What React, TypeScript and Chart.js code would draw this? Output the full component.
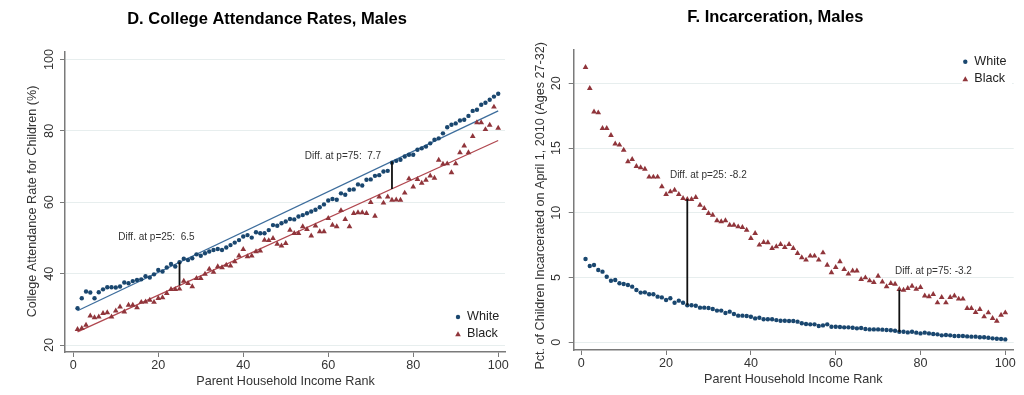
import React, { useEffect, useRef } from "react";
import { Chart, registerables } from "chart.js";
Chart.register(...registerables);

const ranks = [
  1, 2, 3, 4, 5, 6, 7, 8, 9, 10, 11, 12, 13, 14, 15, 16, 17, 18, 19, 20,
  21, 22, 23, 24, 25, 26, 27, 28, 29, 30, 31, 32, 33, 34, 35, 36, 37, 38, 39, 40,
  41, 42, 43, 44, 45, 46, 47, 48, 49, 50, 51, 52, 53, 54, 55, 56, 57, 58, 59, 60,
  61, 62, 63, 64, 65, 66, 67, 68, 69, 70, 71, 72, 73, 74, 75, 76, 77, 78, 79, 80,
  81, 82, 83, 84, 85, 86, 87, 88, 89, 90, 91, 92, 93, 94, 95, 96, 97, 98, 99, 100,
];

const collegeWhite = [
  30.3, 33.1, 35.0, 34.7, 33.1, 34.8, 35.6, 36.2, 36.2, 36.1,
  36.4, 37.5, 37.3, 37.9, 38.2, 38.4, 39.3, 38.9, 39.8, 41.0,
  40.6, 41.7, 42.7, 42.0, 43.2, 44.2, 43.8, 44.3, 45.4, 45.0,
  45.7, 46.2, 46.6, 46.9, 46.6, 47.3, 48.0, 48.7, 49.4, 50.4,
  50.8, 50.1, 51.6, 51.3, 51.3, 52.2, 53.6, 53.4, 54.1, 54.6,
  55.3, 55.2, 56.0, 56.4, 56.9, 57.4, 57.9, 58.6, 59.4, 60.5,
  60.9, 60.7, 62.5, 62.1, 63.5, 63.6, 65.0, 64.7, 66.3, 66.4,
  67.4, 67.6, 68.6, 68.8, 71.1, 71.6, 71.9, 72.8, 73.3, 73.3,
  74.7, 75.1, 75.6, 76.5, 77.5, 77.9, 79.3, 81.0, 81.7, 82.1,
  82.9, 83.1, 84.2, 85.6, 85.9, 87.3, 87.9, 88.7, 89.6, 90.4,
];

const collegeBlack = [
  24.4, 24.7, 25.6, 28.2, 27.7, 27.9, 28.9, 29.1, 27.9, 29.6,
  30.7, 29.3, 31.2, 31.2, 30.5, 32.0, 32.1, 32.6, 32.0, 33.1,
  33.3, 34.5, 35.6, 35.6, 35.7, 37.9, 37.3, 36.4, 38.7, 38.7,
  39.9, 41.3, 40.4, 42.0, 41.7, 42.4, 42.2, 43.4, 45.0, 46.8,
  44.8, 45.0, 46.2, 46.4, 49.4, 49.3, 49.9, 48.3, 47.8, 48.5,
  52.2, 51.3, 51.3, 53.2, 52.4, 50.6, 53.4, 51.8, 51.8, 55.5,
  53.6, 53.2, 57.7, 55.2, 53.2, 56.9, 57.1, 57.1, 56.9, 60.0,
  56.1, 61.5, 59.8, 61.5, 60.6, 60.7, 60.6, 62.6, 66.6, 64.3,
  66.4, 65.4, 66.2, 67.4, 66.8, 71.8, 70.7, 70.8, 68.3, 70.8,
  73.9, 75.8, 73.9, 78.5, 82.3, 82.3, 80.4, 81.6, 86.7, 80.8,
];

const jailWhite = [
  6.43, 5.89, 5.97, 5.59, 5.46, 5.07, 4.76, 4.81, 4.56, 4.50,
  4.43, 4.30, 4.04, 3.84, 3.86, 3.71, 3.71, 3.53, 3.47, 3.27,
  3.40, 3.06, 3.22, 3.06, 2.86, 2.86, 2.83, 2.68, 2.68, 2.65,
  2.57, 2.45, 2.45, 2.27, 2.37, 2.19, 2.06, 2.06, 2.03, 1.98,
  1.85, 1.90, 1.78, 1.78, 1.78, 1.72, 1.67, 1.67, 1.65, 1.65,
  1.60, 1.47, 1.42, 1.39, 1.39, 1.26, 1.31, 1.39, 1.21, 1.21,
  1.18, 1.16, 1.16, 1.13, 1.08, 1.11, 1.03, 1.00, 1.00, 1.00,
  0.98, 0.95, 0.93, 0.90, 0.82, 0.82, 0.77, 0.82, 0.75, 0.69,
  0.75, 0.69, 0.64, 0.62, 0.54, 0.57, 0.54, 0.49, 0.49, 0.49,
  0.46, 0.44, 0.44, 0.39, 0.39, 0.36, 0.31, 0.28, 0.26, 0.23,
];

const jailBlack = [
  21.24, 19.61, 17.79, 17.73, 16.52, 16.52, 15.98, 15.32, 15.24, 14.85,
  13.95, 14.13, 13.59, 13.49, 13.38, 12.77, 12.77, 12.77, 12.02, 11.43,
  11.63, 11.76, 11.43, 11.12, 11.04, 11.04, 11.20, 10.60, 10.35, 9.96,
  9.83, 9.40, 9.32, 9.40, 9.06, 9.06, 8.93, 8.88, 8.67, 8.03,
  8.42, 7.52, 7.72, 7.70, 7.26, 7.39, 7.57, 7.34, 7.57, 7.26,
  6.87, 6.54, 6.36, 6.67, 6.67, 6.36, 6.92, 5.97, 5.38, 5.79,
  6.23, 5.64, 5.28, 5.53, 5.53, 4.86, 4.99, 4.76, 4.63, 5.12,
  4.68, 4.30, 4.56, 4.50, 4.09, 4.04, 4.17, 4.35, 4.12, 4.25,
  3.60, 3.53, 3.71, 3.06, 3.47, 3.06, 3.47, 3.60, 3.35, 3.35,
  2.63, 2.63, 2.32, 2.55, 1.98, 2.29, 1.85, 1.65, 2.11, 2.29,
];

// linear fits (college panel only), endpoints at x = 1 and x = 100
const collegeFitX = [1, 100];
const collegeFitWhite = [29.6, 85.6];
const collegeFitBlack = [23.7, 77.3];

// difference segments
const collegeDiffX = [25, 75];
const collegeDiffLow = [36.7, 63.7];
const collegeDiffHigh = [43.2, 71.4];
const collegeDiffLabels = ["Diff. at p=25:  6.5", "Diff. at p=75:  7.7"];
const collegeDiffLabelX = [10.6, 54.5];
const collegeDiffLabelY = [50.2, 72.8];

const jailDiffX = [25, 75];
const jailDiffLow = [2.86, 0.8];
const jailDiffHigh = [11.06, 4.05];
const jailDiffLabels = ["Diff. at p=25: -8.2", "Diff. at p=75: -3.2"];
const jailDiffLabelX = [20.9, 74.0];
const jailDiffLabelY = [12.92, 5.5];

const xTicks = [0, 20, 40, 60, 80, 100];
const collegeYTicks = [20, 40, 60, 80, 100];
const jailYTicks = [0, 5, 10, 15, 20];
const legendLabels = ["White", "Black"];

const BLUE = "#1a476f";
const RED = "#90353b";
const BLUE_LINE = "#3d6d9c";
const RED_LINE = "#b0474f";
const AXIS = "#7a7a7a";
const GRID = "#e7eeee";
const FONT = "'Liberation Sans', Arial, Helvetica, sans-serif";

type Panel = {
  title: string;
  titleX: number;
  titleBase: number;
  yTitle: string;
  yTitleX: number;
  yTitleY: number;
  xTitle: string;
  xTitleX: number;
  xTitleY: number;
  yTickX: number;
  area: { left: number; right: number; top: number; bottom: number };
  xMin: number;
  xMax: number;
  yMin: number;
  yMax: number;
  yTicks: number[];
  white: number[];
  black: number[];
  fitWhite?: number[];
  fitBlack?: number[];
  diffX: number[];
  diffLow: number[];
  diffHigh: number[];
  diffLabels: string[];
  diffLabelX: number[];
  diffLabelY: number[];
  legendX: number;
  legendY: number[];
  legendBg?: { x: number; y: number; w: number; h: number };
};

const panels: Panel[] = [
  {
    title: "D. College Attendance Rates, Males",
    titleX: 267,
    titleBase: 24.2,
    yTitle: "College Attendance Rate for Children (%)",
    yTitleX: 33,
    yTitleY: 201.5,
    xTitle: "Parent Household Income Rank",
    xTitleX: 285.5,
    xTitleY: 382,
    yTickX: 50,
    area: { left: 65, right: 505, top: 52, bottom: 352 },
    xMin: -1.95,
    xMax: 101.6,
    yMin: 18.04,
    yMax: 102.1,
    yTicks: collegeYTicks,
    white: collegeWhite,
    black: collegeBlack,
    fitWhite: collegeFitWhite,
    fitBlack: collegeFitBlack,
    diffX: collegeDiffX,
    diffLow: collegeDiffLow,
    diffHigh: collegeDiffHigh,
    diffLabels: collegeDiffLabels,
    diffLabelX: collegeDiffLabelX,
    diffLabelY: collegeDiffLabelY,
    legendX: 458,
    legendY: [317, 334],
  },
  {
    title: "F. Incarceration, Males",
    titleX: 263.3,
    titleBase: 21.6,
    yTitle: "Pct. of Children Incarcerated on April 1, 2010 (Ages 27-32)",
    yTitleX: 28.3,
    yTitleY: 205.8,
    xTitle: "Parent Household Income Rank",
    xTitleX: 281.3,
    xTitleY: 380,
    yTickX: 45,
    area: { left: 61.7, right: 501.7, top: 50, bottom: 350 },
    xMin: -1.79,
    xMax: 101.98,
    yMin: -0.59,
    yMax: 22.57,
    yTicks: jailYTicks,
    white: jailWhite,
    black: jailBlack,
    diffX: jailDiffX,
    diffLow: jailDiffLow,
    diffHigh: jailDiffHigh,
    diffLabels: jailDiffLabels,
    diffLabelX: jailDiffLabelX,
    diffLabelY: jailDiffLabelY,
    legendX: 453.3,
    legendY: [61.7, 79],
    legendBg: { x: 450, y: 51, w: 50, h: 37 },
  },
];

function drawTriangle(ctx: CanvasRenderingContext2D, x: number, y: number, r: number) {
  let rad = 0;
  ctx.beginPath();
  ctx.moveTo(x + Math.sin(rad) * r, y - Math.cos(rad) * r);
  rad += (2 * Math.PI) / 3;
  ctx.lineTo(x + Math.sin(rad) * r, y - Math.cos(rad) * r);
  rad += (2 * Math.PI) / 3;
  ctx.lineTo(x + Math.sin(rad) * r, y - Math.cos(rad) * r);
  ctx.closePath();
  ctx.fill();
}

function PanelChart({ p, left }: { p: Panel; left: number }) {
  const ref = useRef<HTMLCanvasElement | null>(null);
  useEffect(() => {
    const canvas = ref.current;
    if (!canvas) return;

    const textPlugin = {
      id: "panelTexts",
      afterDraw(chart: any) {
        const ctx: CanvasRenderingContext2D = chart.ctx;
        const xs = chart.scales.x;
        const ys = chart.scales.y;
        ctx.save();
        // title
        ctx.fillStyle = "#000";
        ctx.font = `bold 16.5px ${FONT}`;
        ctx.textAlign = "center";
        ctx.textBaseline = "alphabetic";
        ctx.fillText(p.title, p.titleX, p.titleBase);

        // y tick labels (vertical, Stata style)
        ctx.font = `12.6px ${FONT}`;
        ctx.fillStyle = "#333";
        ctx.textBaseline = "middle";
        for (const t of ys.ticks) {
          const y = ys.getPixelForValue(t.value);
          ctx.save();
          ctx.translate(p.yTickX, y);
          ctx.rotate(-Math.PI / 2);
          ctx.fillText(String(t.value), 0, 0);
          ctx.restore();
        }
        // axis titles
        ctx.save();
        ctx.translate(p.yTitleX, p.yTitleY);
        ctx.rotate(-Math.PI / 2);
        ctx.fillText(p.yTitle, 0, 0);
        ctx.restore();
        ctx.fillText(p.xTitle, p.xTitleX, p.xTitleY);

        // difference annotations
        ctx.font = `10px ${FONT}`;
        ctx.textAlign = "left";
        ctx.fillStyle = "#333";
        p.diffLabels.forEach((s, i) => {
          ctx.fillText(s, xs.getPixelForValue(p.diffLabelX[i]), ys.getPixelForValue(p.diffLabelY[i]));
        });

        // legend
        if (p.legendBg) {
          ctx.fillStyle = "#fff";
          ctx.fillRect(p.legendBg.x, p.legendBg.y, p.legendBg.w, p.legendBg.h);
        }
        ctx.fillStyle = BLUE;
        ctx.beginPath();
        ctx.arc(p.legendX, p.legendY[0], 2.2, 0, Math.PI * 2);
        ctx.fill();
        ctx.fillStyle = RED;
        drawTriangle(ctx, p.legendX, p.legendY[1] + 0.5, 3.3);
        ctx.font = `12.6px ${FONT}`;
        ctx.fillStyle = "#222";
        ctx.textAlign = "left";
        legendLabels.forEach((s, i) => ctx.fillText(s, p.legendX + 9, p.legendY[i]));
        ctx.restore();
      },
    };

    const datasets: any[] = [];
    p.diffX.forEach((x, i) => {
      datasets.push({
        data: [
          { x, y: p.diffLow[i] },
          { x, y: p.diffHigh[i] },
        ],
        showLine: true,
        borderColor: "#111",
        borderWidth: 1.8,
        pointRadius: 0,
        order: 0,
      });
    });
    if (p.fitWhite && p.fitBlack) {
      datasets.push({
        data: collegeFitX.map((x, i) => ({ x, y: p.fitWhite![i] })),
        showLine: true,
        borderColor: BLUE_LINE,
        borderWidth: 1.3,
        pointRadius: 0,
        order: 3,
      });
      datasets.push({
        data: collegeFitX.map((x, i) => ({ x, y: p.fitBlack![i] })),
        showLine: true,
        borderColor: RED_LINE,
        borderWidth: 1.3,
        pointRadius: 0,
        order: 3,
      });
    }
    datasets.push({
      label: legendLabels[0],
      data: ranks.map((r, i) => ({ x: r, y: p.white[i] })),
      pointStyle: "circle",
      pointRadius: 2.2,
      pointBackgroundColor: BLUE,
      pointBorderWidth: 0,
      showLine: false,
      order: 1,
    });
    datasets.push({
      label: legendLabels[1],
      data: ranks.map((r, i) => ({ x: r, y: p.black[i] })),
      pointStyle: "triangle",
      pointRadius: 3.3,
      pointBackgroundColor: RED,
      pointBorderWidth: 0,
      showLine: false,
      order: 2,
    });

    const chart = new Chart(canvas, {
      type: "scatter",
      data: { datasets },
      options: {
        responsive: false,
        animation: false,
        devicePixelRatio: 1,
        layout: { padding: { left: 0, top: p.area.top, right: 512 - p.area.right, bottom: 0 } },
        plugins: { legend: { display: false }, tooltip: { enabled: false }, title: { display: false } },
        scales: {
          x: {
            type: "linear",
            min: p.xMin,
            max: p.xMax,
            afterBuildTicks: (s: any) => {
              s.ticks = xTicks.map((v) => ({ value: v }));
            },
            afterFit: (s: any) => {
              s.height = 395 - p.area.bottom;
            },
            grid: { drawOnChartArea: false, drawTicks: true, tickLength: 5, tickColor: AXIS, lineWidth: 1 },
            border: { display: true, color: AXIS, width: 1.5 },
            ticks: {
              color: "#333",
              font: { family: FONT, size: 12.6 },
              padding: 1,
              maxRotation: 0,
              minRotation: 0,
              autoSkip: false,
            },
          },
          y: {
            type: "linear",
            min: p.yMin,
            max: p.yMax,
            afterBuildTicks: (s: any) => {
              s.ticks = p.yTicks.map((v) => ({ value: v }));
            },
            afterFit: (s: any) => {
              s.width = p.area.left;
            },
            grid: { color: GRID, lineWidth: 1, drawTicks: true, tickLength: 5, tickColor: AXIS },
            border: { display: true, color: AXIS, width: 1.5 },
            ticks: { color: "rgba(0,0,0,0)", font: { family: FONT, size: 12.6 }, padding: 2 },
          },
        },
      } as any,
      plugins: [textPlugin],
    });
    return () => chart.destroy();
  }, [p]);

  return (
    <canvas
      ref={ref}
      width={512}
      height={395}
      style={{ position: "absolute", left, top: 0, width: 512, height: 395, display: "block" }}
    />
  );
}

export default function App() {
  return (
    <div style={{ position: "absolute", left: 0, top: 0, width: 1024, height: 395, background: "#fff" }}>
      <PanelChart p={panels[0]} left={0} />
      <PanelChart p={panels[1]} left={512} />
    </div>
  );
}
